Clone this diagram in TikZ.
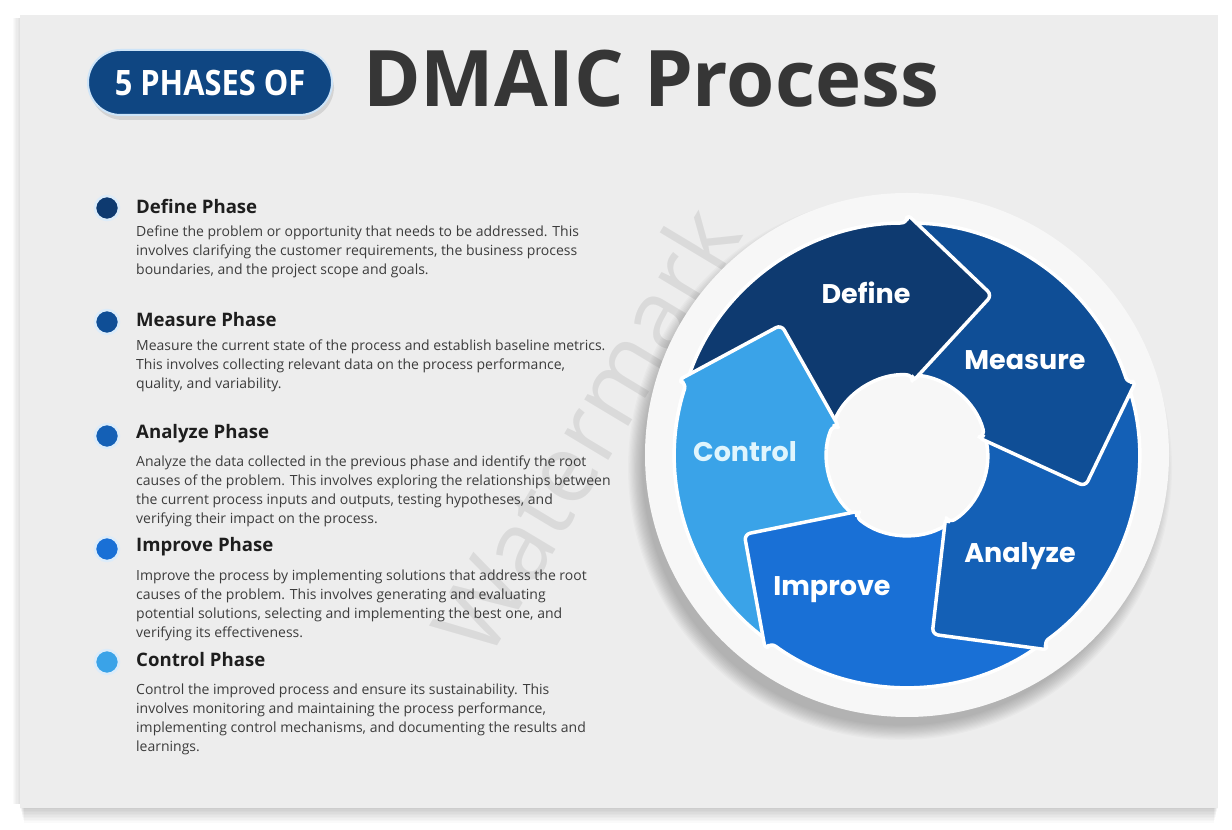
\documentclass[tikz,border=0pt]{standalone}
\usepackage{graphicx}
\usepackage{fontspec}
\setmainfont{Open Sans}
\newfontfamily\poppfont{Poppins}
\usetikzlibrary{calc}
\definecolor{panelgray}{HTML}{EDEDED}
\definecolor{cDefine}{RGB}{14,58,112}
\definecolor{cMeasure}{RGB}{15,78,150}
\definecolor{cAnalyze}{RGB}{20,96,182}
\definecolor{cImprove}{RGB}{25,112,214}
\definecolor{cControl}{RGB}{58,163,232}
\definecolor{pillblue}{RGB}{15,70,130}
\definecolor{pillrim}{RGB}{205,228,248}
\definecolor{titlegray}{HTML}{363636}
\definecolor{bodygray}{HTML}{3C3C3C}
\definecolor{headgray}{HTML}{1E1E1E}
\newcommand\dmaicarrow[2]{%
  \fill[#2, draw=white, line width=3.5pt, rounded corners=6pt, line join=round]
    ({#1+71}:232) arc[start angle={#1+71}, end angle={#1}, radius=232]
    -- ({#1}:241) -- ({#1-28}:181) -- ({#1-4}:73) -- ({#1-4}:80)
    arc[start angle={#1-4}, end angle={#1+69}, radius=80] -- cycle;}
\tikzset{
  bulletdot/.style={circle, minimum size=24pt, inner sep=0pt, draw=pillrim!70!white, line width=2.5pt},
  phasehead/.style={anchor=west, inner sep=0pt, text=headgray, font=\fontsize{18.6}{21}\selectfont\bfseries},
  phasebody/.style={anchor=north west, inner sep=0pt, align=left, text=bodygray, font=\fontsize{14}{19}\selectfont},
  wheellabel/.style={inner sep=0pt, text=white, font=\poppfont\fontsize{27}{30}\selectfont\bfseries},
}
\begin{document}
\begin{tikzpicture}[x=1pt,y=1pt]
\useasboundingbox (0,0) rectangle (1232,830);
\fill[white] (0,0) rectangle (1232,830);
% panel shadow
\foreach \i in {1,...,10}{\fill[black,opacity=0.018] ({20+\i*0.4},{22-\i*1.5}) rectangle ({1218-\i*0.4},60);}
\foreach \i in {1,...,6}{\fill[black,opacity=0.018] ({20-\i*1.2},26) rectangle (60,812);}
\fill[panelgray] (20,22) rectangle (1218,815);
% watermark
\node[rotate=59, text=black, opacity=0.08, inner sep=0pt, font=\fontsize{96}{96}\selectfont] (wm) at (585,400) {Watermark};
% title
\fill[black,opacity=0.10,rounded corners=33pt] (90,710) rectangle (334,774);
\node[rounded corners=32.5pt, minimum width=244pt, minimum height=65pt, fill=pillblue, draw=pillrim, line width=2pt, inner sep=0pt] (pill) at (210,747.5) {};
\node[text=white, inner sep=0pt, font=\fontsize{35}{40}\selectfont\bfseries] (pilltext) at (pill.center) {\scalebox{0.88}[1]{5 PHASES OF}};
\node[anchor=base west, inner sep=0pt, text=titlegray, font=\fontsize{78}{80}\selectfont\bfseries] (title) at (363,723) {DMAIC Process};
% list
\node[bulletdot, fill=cDefine] (bDefine) at (107,622) {};
\node[phasehead] (hDefine) at (136,624) {Define Phase};
\node[phasebody] (tDefine) at (136,604.5) {Define the problem or opportunity that needs to be addressed. This\\involves clarifying the customer requirements, the business process\\boundaries, and the project scope and goals.};
\node[bulletdot, fill=cMeasure] (bMeasure) at (107,508) {};
\node[phasehead] (hMeasure) at (136,510) {Measure Phase};
\node[phasebody] (tMeasure) at (136,490.5) {Measure the current state of the process and establish baseline metrics.\\This involves collecting relevant data on the process performance,\\quality, and variability.};
\node[bulletdot, fill=cAnalyze] (bAnalyze) at (107,394) {};
\node[phasehead] (hAnalyze) at (136,396) {Analyze Phase};
\node[phasebody] (tAnalyze) at (136,374.5) {Analyze the data collected in the previous phase and identify the root\\causes of the problem. This involves exploring the relationships between\\the current process inputs and outputs, testing hypotheses, and\\verifying their impact on the process.};
\node[bulletdot, fill=cImprove] (bImprove) at (107,281) {};
\node[phasehead] (hImprove) at (136,283) {Improve Phase};
\node[phasebody] (tImprove) at (136,260.5) {Improve the process by implementing solutions that address the root\\causes of the problem. This involves generating and evaluating\\potential solutions, selecting and implementing the best one, and\\verifying its effectiveness.};
\node[bulletdot, fill=cControl] (bControl) at (107,168) {};
\node[phasehead] (hControl) at (136,170) {Control Phase};
\node[phasebody] (tControl) at (136,146.5) {Control the improved process and ensure its sustainability. This\\involves monitoring and maintaining the process performance,\\implementing control mechanisms, and documenting the results and\\learnings.};
% wheel
\begin{scope}[shift={(907,375)}]
  \foreach \i in {0,...,12}{\fill[black,opacity=0.018] (-7,-13) circle ({272-\i*1.2});}
  \fill[white!97!black] (0,0) circle (262);
  \dmaicarrow{162}{cControl}
  \dmaicarrow{-126}{cImprove}
  \dmaicarrow{-54}{cAnalyze}
  \dmaicarrow{18}{cMeasure}
  \dmaicarrow{90}{cDefine}
  \begin{scope}
    \clip (0,0) -- (176:300) arc[start angle=176, end angle=124, radius=300] -- cycle;
    \dmaicarrow{162}{cControl}
  \end{scope}
\end{scope}
\node[wheellabel] (lDefine) at (866,537) {Define};
\node[wheellabel] (lMeasure) at (1025,470) {Measure};
\node[wheellabel] (lAnalyze) at (1020,274) {Analyze};
\node[wheellabel] (lImprove) at (832,240) {Improve};
\node[wheellabel, text=white!88!cyan] (lControl) at (745,378) {Control};
\end{tikzpicture}
\end{document}
